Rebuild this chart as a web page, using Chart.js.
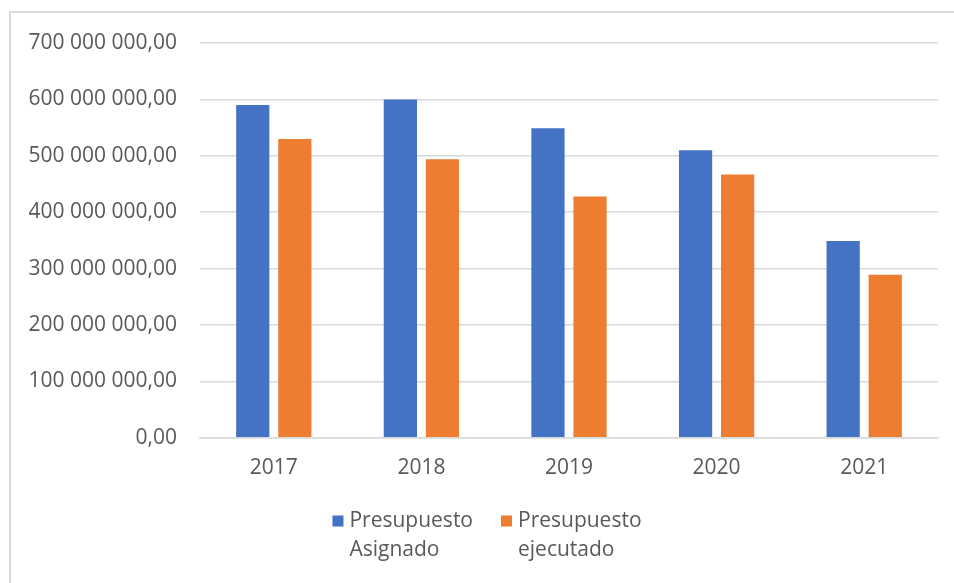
<!DOCTYPE html>
<html>
<head>
<meta charset="utf-8">
<script src="https://cdn.jsdelivr.net/npm/chart.js@4"></script>
<style>
  html, body { margin:0; padding:0; background:#fff; }
  #wrap { position:relative; width:954px; height:583px; }
  #frame { position:absolute; left:9px; top:11px; right:-5px; bottom:-5px; border-left:2px solid #d9d9d9; border-top:2px solid #d9d9d9; }
  canvas { position:absolute; left:0; top:0; }
</style>
</head>
<body>
<div id="wrap">
  <div id="frame"></div>
  <canvas id="budget" width="954" height="583"></canvas>
</div>
<script>
const years = ['2017', '2018', '2019', '2020', '2021'];
const asignado = [590000000, 600000000, 549000000, 510000000, 349000000];
const ejecutado = [530000000, 494000000, 428000000, 467000000, 289000000];
const seriesLabels = [['Presupuesto', 'Asignado'], ['Presupuesto', 'ejecutado']];

const gridGrey = '#d9d9d9';
const textGrey = '#595959';
const fontFamily = '"Open Sans", sans-serif';

function fmt(v){
  const whole = Math.round(v).toString().replace(/\B(?=(\d{3})+(?!\d))/g, ' ');
  return whole + ',00';
}

// two-line legend under the axis, Excel style
const wrapLegend = {
  id: 'wrapLegend',
  afterDraw(chart){
    const ctx = chart.ctx;
    const sets = chart.data.datasets;
    const box = 11, gapText = 6, gapItem = 28, lineH = 29, top = 521;
    ctx.save();
    ctx.font = '21px ' + fontFamily;
    ctx.textBaseline = 'middle';
    ctx.textAlign = 'left';
    const widths = sets.map(ds => box + gapText + Math.max(...ds.label.map(t => ctx.measureText(t).width)));
    const total = widths.reduce((a, b) => a + b, 0) + gapItem * (sets.length - 1);
    let x = chart.width / 2 + 10 - total / 2;
    sets.forEach((ds, i) => {
      ctx.fillStyle = ds.backgroundColor;
      ctx.fillRect(x, top - box / 2, box, box);
      ctx.fillStyle = textGrey;
      ds.label.forEach((t, j) => ctx.fillText(t, x + box + gapText, top + j * lineH));
      x += widths[i] + gapItem;
    });
    ctx.restore();
  }
};

new Chart(document.getElementById('budget').getContext('2d'), {
  type: 'bar',
  data: {
    labels: years,
    datasets: [
      { label: seriesLabels[0], data: asignado, backgroundColor: '#4472c4', borderWidth: 0,
        categoryPercentage: 0.57, barPercentage: 0.79 },
      { label: seriesLabels[1], data: ejecutado, backgroundColor: '#ed7d31', borderWidth: 0,
        categoryPercentage: 0.57, barPercentage: 0.79 }
    ]
  },
  options: {
    responsive: false,
    animation: false,
    layout: { padding: { top: 43, right: 16, left: 10, bottom: 84 } },
    scales: {
      x: {
        grid: { display: false, drawTicks: false },
        border: { color: gridGrey, width: 1.5 },
        ticks: { color: textGrey, font: { family: fontFamily, size: 21 }, padding: 18 }
      },
      y: {
        min: 0, max: 700000000,
        afterFit: s => { s.width = 190; },
        grid: { color: gridGrey, lineWidth: 1.5, drawTicks: false },
        border: { display: false },
        ticks: { stepSize: 100000000, color: textGrey, font: { family: fontFamily, size: 21 },
                 padding: 23, callback: v => fmt(v) }
      }
    },
    plugins: {
      tooltip: { enabled: false },
      legend: { display: false }
    }
  },
  plugins: [wrapLegend]
});
</script>
</body>
</html>
